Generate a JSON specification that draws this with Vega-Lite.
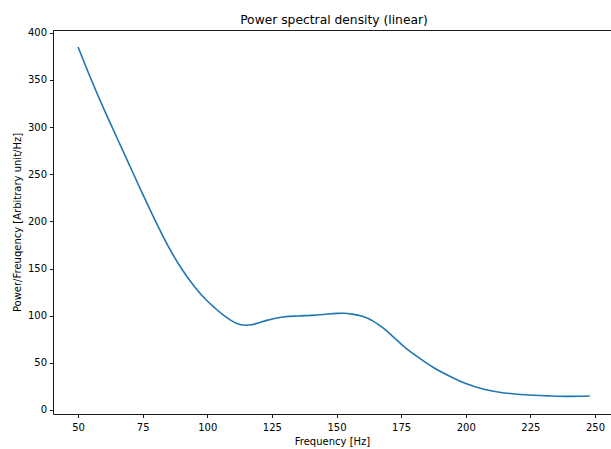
{
  "$schema": "https://vega.github.io/schema/vega-lite/v6.json",
  "width": 558,
  "height": 384,
  "autosize": {"type": "none"},
  "padding": {"left": 53, "top": 30, "right": 0, "bottom": 35},
  "background": "white",
  "config": {
    "view": {"stroke": null},
    "font": "DejaVu Sans",
    "axis": {
      "labelFont": "DejaVu Sans",
      "titleFont": "DejaVu Sans",
      "labelFontSize": 10,
      "titleFontSize": 10,
      "titleFontWeight": "normal",
      "labelColor": "#000000",
      "titleColor": "#000000",
      "domainColor": "#000000",
      "domainWidth": 0.9,
      "tickColor": "#000000",
      "tickWidth": 0.9,
      "tickSize": 3.5,
      "labelPadding": 3,
      "grid": false
    }
  },
  "title": {
    "text": "Power spectral density (linear)",
    "font": "DejaVu Sans",
    "fontSize": 12.3,
    "fontWeight": "normal",
    "color": "#000000",
    "anchor": "middle",
    "offset": 2,
    "dx": 2
  },
  "data": {
    "values": [
      {"f": 50, "p": 385},
      {"f": 55, "p": 351},
      {"f": 60, "p": 319},
      {"f": 65, "p": 289},
      {"f": 70, "p": 259},
      {"f": 75, "p": 229},
      {"f": 80, "p": 200},
      {"f": 85, "p": 173},
      {"f": 90, "p": 150},
      {"f": 95, "p": 131},
      {"f": 100, "p": 115.5},
      {"f": 103, "p": 108},
      {"f": 106, "p": 101},
      {"f": 109, "p": 95.2},
      {"f": 111, "p": 92.2},
      {"f": 113, "p": 90.4},
      {"f": 115, "p": 89.9},
      {"f": 117, "p": 90.4},
      {"f": 120, "p": 92.4},
      {"f": 123, "p": 95},
      {"f": 126, "p": 97},
      {"f": 130, "p": 98.8},
      {"f": 135, "p": 99.7},
      {"f": 140, "p": 100.3},
      {"f": 145, "p": 101.2},
      {"f": 150, "p": 102.4},
      {"f": 153, "p": 102.5},
      {"f": 156, "p": 101.6},
      {"f": 160, "p": 99.3},
      {"f": 164, "p": 94.5},
      {"f": 168, "p": 87},
      {"f": 172, "p": 77.5},
      {"f": 176, "p": 67.5},
      {"f": 181, "p": 57},
      {"f": 187.5, "p": 45},
      {"f": 194, "p": 35.5},
      {"f": 200, "p": 28},
      {"f": 207, "p": 22},
      {"f": 213, "p": 18.8},
      {"f": 220, "p": 16.7},
      {"f": 226, "p": 15.6},
      {"f": 232, "p": 14.9},
      {"f": 239, "p": 14.4},
      {"f": 244, "p": 14.5},
      {"f": 248, "p": 14.8}
    ]
  },
  "layer": [
    {
      "mark": {"type": "line", "color": "#1f77b4", "strokeWidth": 1.6, "interpolate": "monotone"},
      "encoding": {
        "x": {
          "field": "f",
          "type": "quantitative",
          "scale": {"domain": [40.3, 256.2], "nice": false, "zero": false},
          "axis": {
            "orient": "bottom",
            "title": "Frequency [Hz]",
            "values": [50, 75, 100, 125, 150, 175, 200, 225, 250],
            "labelPadding": 4.5,
            "titlePadding": 4
          }
        },
        "y": {
          "field": "p",
          "type": "quantitative",
          "scale": {"domain": [-4.3, 403], "nice": false, "zero": false},
          "axis": {
            "title": "Power/Freuqency [Arbitrary unit/Hz]",
            "values": [0, 50, 100, 150, 200, 250, 300, 350, 400],
            "titlePadding": 5
          }
        }
      }
    },
    {
      "mark": {"type": "line", "strokeOpacity": 0},
      "encoding": {
        "x": {
          "field": "f",
          "type": "quantitative",
          "axis": {"orient": "top", "labels": false, "ticks": false, "title": null}
        },
        "y": {"field": "p", "type": "quantitative"}
      }
    }
  ],
  "resolve": {"axis": {"x": "independent"}}
}
